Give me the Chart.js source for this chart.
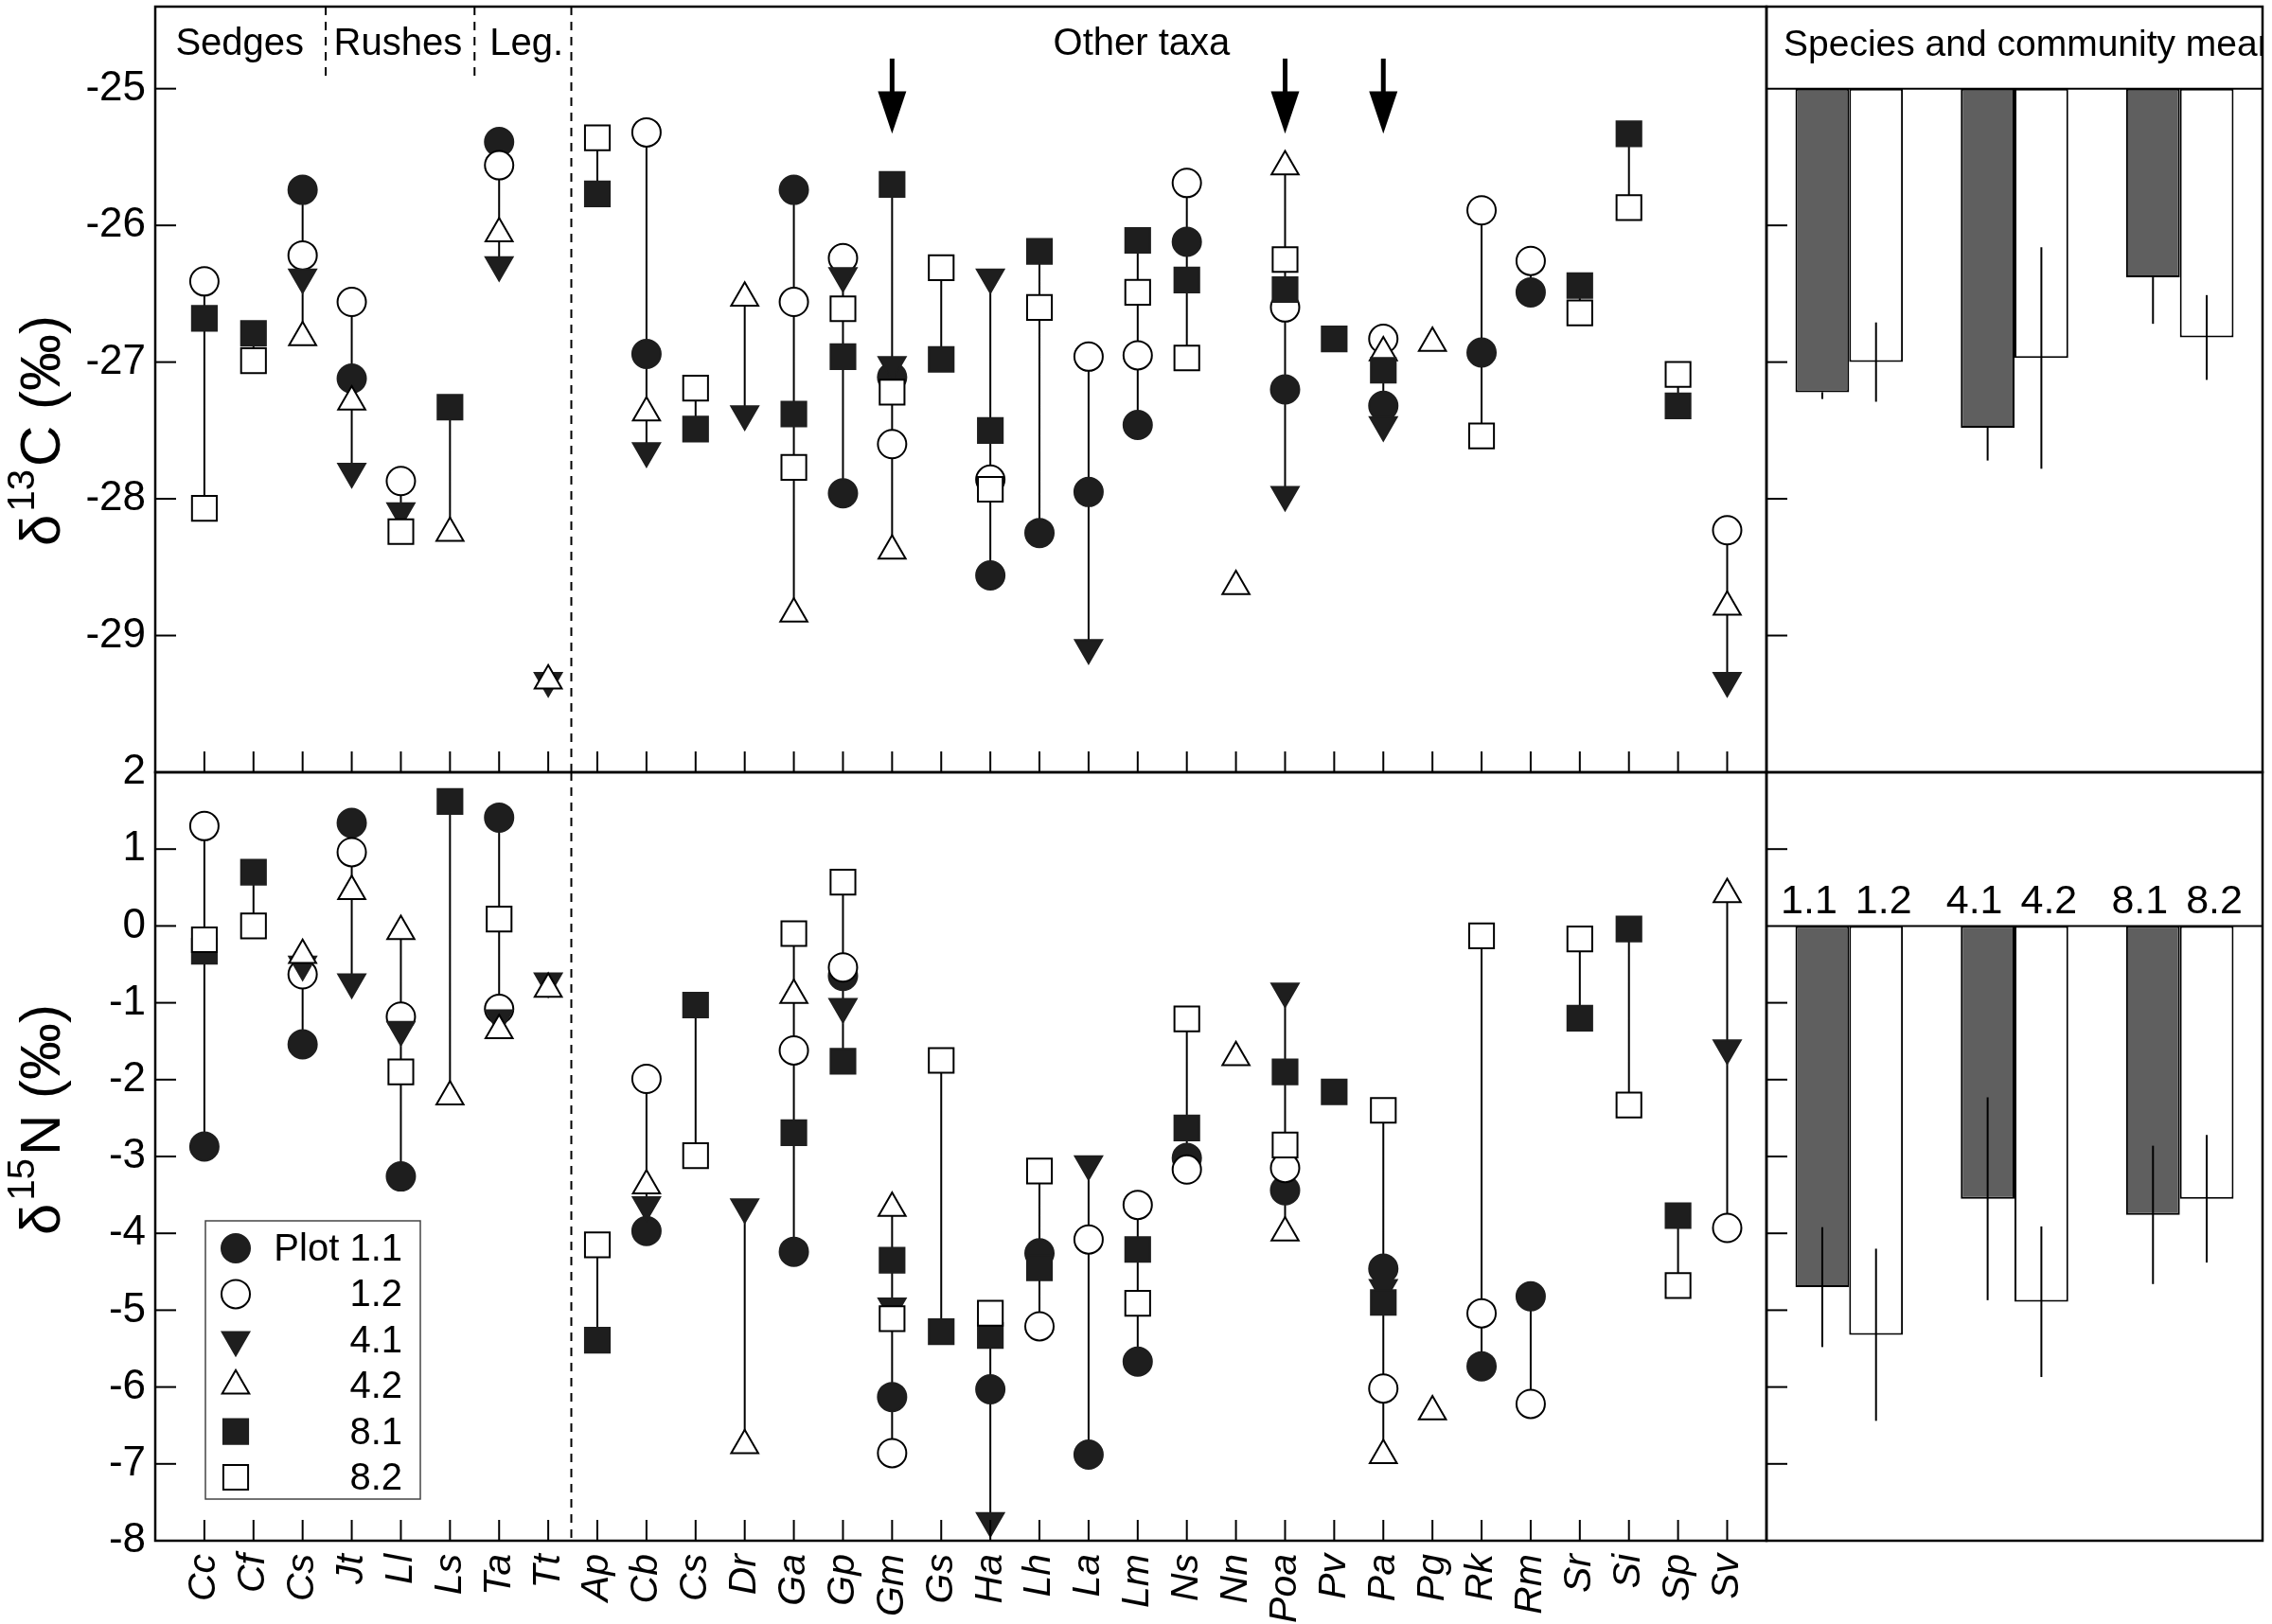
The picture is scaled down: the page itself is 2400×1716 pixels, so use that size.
<!DOCTYPE html>
<html lang="en">
<head>
  <meta charset="UTF-8" />
  <title>δ13C and δ15N by taxon and plot</title>
  <script src="https://cdn.jsdelivr.net/npm/chart.js"></script>
  <style>
    html, body { margin: 0; padding: 0; background: #fff; }
    #wrap { position: relative; width: 2400px; height: 1716px; }
    #wrap canvas { position: absolute; left: 0; top: 0; }
  </style>
</head>
<body>
<div id="wrap">
  <canvas id="c13" width="2400" height="1716"></canvas>
  <canvas id="n15" width="2400" height="1716"></canvas>
  <canvas id="m13" width="2400" height="1716"></canvas>
  <canvas id="m15" width="2400" height="1716"></canvas>
</div>
<script>
  // taxa along the x axis
  const taxa = ['Cc','Cf','Cs','Jt','Ll','Ls','Ta','Tt','Ap','Cb','Cs','Dr','Ga','Gp','Gm','Gs',
                'Ha','Lh','La','Lm','Ns','Nn','Poa','Pv','Pa','Pg','Rk','Rm','Sr','Si','Sp','Sv'];

  // d13C per plot (null = not sampled)
  const c13_11 = [null,null,-25.74,-27.12,null,null,-25.39,null,null,-26.94,null,null,-25.74,-27.96,-27.11,null,-28.56,-28.25,-27.95,-27.46,-26.12,null,-27.20,null,-27.32,null,-26.93,-26.49,null,null,null,null];
  const c13_12 = [-26.41,null,-26.22,-26.56,-27.87,null,-25.56,null,null,-25.32,null,null,-26.56,-26.24,-27.60,null,-27.86,null,-26.96,-26.95,-25.69,null,-26.60,null,-26.83,null,-25.89,-26.26,null,null,null,-28.23];
  const c13_41 = [null,null,-26.38,-27.80,-28.09,null,-26.29,-29.33,null,-27.65,null,-27.38,null,-26.37,-27.02,null,-26.38,null,-29.09,null,null,null,-27.97,null,-27.46,null,null,null,null,null,null,-29.33];
  const c13_42 = [null,null,-26.82,-27.29,null,-28.25,-26.06,-29.33,null,-27.37,null,-26.53,-28.84,null,-28.38,null,null,null,null,null,null,-28.64,-25.57,null,-26.93,-26.86,null,null,null,null,null,-28.79];
  const c13_81 = [-26.68,-26.79,null,null,null,-27.33,null,null,-25.77,null,-27.49,null,-27.38,-26.96,-25.70,-26.98,-27.50,-26.19,null,-26.11,-26.40,null,-26.47,-26.83,-27.06,null,null,null,-26.44,-25.33,-27.32,null];
  const c13_82 = [-28.07,-26.99,null,null,-28.24,null,null,null,-25.36,null,-27.19,null,-27.77,-26.61,-27.22,-26.31,-27.93,-26.60,null,-26.49,-26.97,null,-26.25,null,null,null,-27.54,null,-26.64,-25.87,-27.09,null];

  // d15N per plot
  const n15_11 = [-2.87,null,-1.54,1.34,-3.26,null,1.41,null,null,-3.97,null,null,-4.24,-0.65,-6.13,null,-6.03,-4.26,-6.88,-5.67,-3.02,null,-3.44,null,-4.46,null,-5.73,-4.82,null,null,null,null];
  const n15_12 = [1.30,null,-0.63,0.96,-1.18,null,-1.08,null,null,-1.99,null,null,-1.62,-0.54,-6.86,null,null,-5.21,-4.08,-3.63,-3.17,null,-3.15,null,-6.02,null,-5.04,-6.22,null,null,null,-3.93];
  const n15_41 = [null,null,-0.50,-0.73,-1.35,null,-1.20,-0.72,null,-3.63,null,-3.66,null,-1.05,-4.95,null,-7.74,null,-3.10,null,null,null,-0.85,null,-4.71,null,null,null,null,null,null,-1.59];
  const n15_42 = [null,null,-0.38,0.45,-0.07,-2.22,-1.36,-0.82,null,-3.38,null,-6.76,-0.90,null,-3.67,null,null,null,null,null,null,-1.71,-3.99,null,-6.89,-6.32,null,null,null,null,null,0.41];
  const n15_81 = [-0.33,0.70,null,null,null,1.62,null,null,-5.39,null,-1.03,null,-2.69,-1.76,-4.35,-5.28,-5.33,-4.45,null,-4.21,-2.63,null,-1.90,-2.16,-4.90,null,null,null,-1.20,-0.04,-3.77,null];
  const n15_82 = [-0.18,0.00,null,null,-1.90,null,0.09,null,-4.15,null,-2.99,null,-0.10,0.57,-5.11,-1.75,-5.04,-3.19,null,-4.91,-1.21,null,-2.85,null,-2.40,null,-0.13,null,-0.17,-2.33,-4.68,null];

  // community means (plot order 1.1, 1.2, 4.1, 4.2, 8.1, 8.2)
  const plots = ['1.1','1.2','4.1','4.2','8.1','8.2'];
  const mean13 = [-27.22, -27.00, -27.48, -26.97, -26.38, -26.82];
  const err13  = [0.05, 0.29, 0.24, 0.81, 0.34, 0.31];
  const mean15 = [-4.70, -5.32, -3.55, -4.89, -3.76, -3.55];
  const err15  = [0.78, 1.12, 1.32, 0.98, 0.90, 0.83];

  // y tick values
  const ticks13 = [-25, -26, -27, -28, -29];
  const ticks15 = [2, 1, 0, -1, -2, -3, -4, -5, -6, -7, -8];

  // taxa marked with an arrow in the top panel
  const arrowTaxa = ['Gm', 'Poa', 'Pa'];

  const FONT = "'Liberation Sans', Arial, Helvetica, sans-serif";
  const dark = '#1e1e1e';
  Chart.defaults.font.family = FONT;
  Chart.defaults.color = '#000';

  const looks = [
    { label: 'Plot 1.1', style: 'circle',   rot: 0,   r: 15,   fill: dark },
    { label: '1.2',      style: 'circle',   rot: 0,   r: 15,   fill: '#fff' },
    { label: '4.1',      style: 'triangle', rot: 180, r: 16.5, fill: dark },
    { label: '4.2',      style: 'triangle', rot: 0,   r: 16.5, fill: '#fff' },
    { label: '8.1',      style: 'rect',     rot: 0,   r: 18.5, fill: dark },
    { label: '8.2',      style: 'rect',     rot: 0,   r: 18.5, fill: '#fff' }
  ];

  function pointsOf(vals) {
    return vals.map((v, i) => ({ x: i, y: v })).filter(p => p.y !== null);
  }

  // one vertical segment per taxon, from lowest to highest value
  function rangeOf(list) {
    const out = [];
    taxa.forEach((t, i) => {
      const vs = list.map(s => s[i]).filter(v => v !== null);
      if (vs.length > 1) {
        out.push({ x: i, y: Math.max(...vs) }, { x: i, y: Math.min(...vs) }, { x: i, y: null });
      }
    });
    return out;
  }

  function scatterSets(list) {
    const sets = [{
      data: rangeOf(list), showLine: true, borderColor: '#000', borderWidth: 2,
      pointRadius: 0, order: 10
    }];
    list.forEach((vals, k) => {
      const lk = looks[k];
      sets.push({
        data: pointsOf(vals),
        pointStyle: lk.style, pointRotation: lk.rot, pointRadius: lk.r,
        backgroundColor: lk.fill,
        borderColor: lk.fill === '#fff' ? '#000' : dark,
        borderWidth: 2, order: 6 - k
      });
    });
    return sets;
  }

  function drawMark(ctx, lk, x, y) {
    ctx.fillStyle = lk.fill;
    ctx.strokeStyle = lk.fill === '#fff' ? '#000' : dark;
    ctx.lineWidth = 2;
    Chart.helpers.drawPoint(ctx, { pointStyle: lk.style, rotation: lk.rot, radius: lk.r, borderWidth: 2 }, x, y);
  }

  function line(ctx, x0, y0, x1, y1) {
    ctx.beginPath(); ctx.moveTo(x0, y0); ctx.lineTo(x1, y1); ctx.stroke();
  }

  const deco = {
    id: 'deco',
    afterDatasetsDraw(chart, args, o) {
      const { ctx, chartArea: a } = chart;
      const xs = chart.scales.x, ys = chart.scales.y;
      ctx.save();
      ctx.strokeStyle = '#000';
      ctx.fillStyle = '#000';
      ctx.lineWidth = 2;

      if (o.baseline !== undefined) {
        const y = ys.getPixelForValue(o.baseline);
        line(ctx, a.left, y, a.right, y);
      }

      if (o.errors) {
        o.errors.vals.forEach((errs, d) => {
          const meta = chart.getDatasetMeta(d);
          meta.data.forEach((bar, j) => {
            const [b, v] = chart.data.datasets[d].data[j];
            const e = errs[j];
            const dir = Math.sign(v - b);
            const y0 = ys.getPixelForValue(o.errors.outward[d] ? v : v - dir * e);
            const y1 = ys.getPixelForValue(v + dir * e);
            line(ctx, bar.x, y0, bar.x, y1);
          });
        });
      }

      (o.yTicks || []).forEach(v => {
        const y = ys.getPixelForValue(v);
        line(ctx, a.left, y, a.left + 22, y);
      });
      if (o.xTicks) {
        taxa.forEach((t, i) => {
          const x = xs.getPixelForValue(i);
          line(ctx, x, a.bottom, x, a.bottom - 22);
        });
      }

      ctx.setLineDash([9, 7]);
      (o.dashes || []).forEach(d => {
        const x = xs.getPixelForValue(d.x);
        const y0 = d.y0 === undefined ? a.top : ys.getPixelForValue(d.y0);
        const y1 = d.y1 === undefined ? a.bottom : ys.getPixelForValue(d.y1);
        line(ctx, x, y0, x, y1);
      });
      ctx.setLineDash([]);

      (o.texts || []).forEach(t => {
        ctx.save();
        ctx.beginPath();
        ctx.rect(a.left, a.top, a.right - a.left, a.bottom - a.top);
        ctx.clip();
        ctx.font = `${t.size || 40}px ${FONT}`;
        ctx.textAlign = t.align || 'center';
        ctx.textBaseline = 'alphabetic';
        const x = t.px !== undefined ? a.left + t.px : xs.getPixelForValue(t.x);
        ctx.fillText(t.t, x, ys.getPixelForValue(t.y));
        ctx.restore();
      });

      (o.arrows || []).forEach(name => {
        const x = xs.getPixelForValue(taxa.indexOf(name));
        const yTop = ys.getPixelForValue(-24.78);
        const yBase = ys.getPixelForValue(-25.02);
        const yTip = ys.getPixelForValue(-25.33);
        ctx.lineWidth = 5;
        line(ctx, x, yTop, x, yBase + 2);
        ctx.beginPath();
        ctx.moveTo(x - 15, yBase); ctx.lineTo(x + 15, yBase); ctx.lineTo(x, yTip);
        ctx.closePath(); ctx.fill();
        ctx.lineWidth = 2;
      });

      if (o.barLabels) {
        ctx.font = `43px ${FONT}`;
        ctx.textAlign = 'center';
        ctx.textBaseline = 'alphabetic';
        [0, 1].forEach(d => {
          chart.getDatasetMeta(d).data.forEach((bar, j) => {
            const shift = d === 0 ? -14 : 8;
            ctx.fillText(plots[2 * j + d], bar.x + shift, ys.getPixelForValue(0.17));
          });
        });
      }

      if (o.legend) {
        const bx = a.left + 53, by = a.top + 474;
        ctx.lineWidth = 1.5;
        ctx.strokeStyle = '#444';
        ctx.strokeRect(bx, by, 227, 294);
        ctx.font = `40px ${FONT}`;
        ctx.textAlign = 'right';
        ctx.textBaseline = 'middle';
        looks.forEach((lk, k) => {
          const y = by + 29 + k * 48.4;
          drawMark(ctx, lk, bx + 32, y);
          ctx.fillStyle = '#000';
          ctx.fillText(lk.label, bx + 208, y + 2);
        });
      }

      ctx.lineWidth = 2.5;
      ctx.strokeStyle = '#000';
      ctx.strokeRect(a.left, a.top, a.right - a.left, a.bottom - a.top);
      ctx.restore();
    },
    afterDraw(chart, args, o) {
      if (!o.title) return;
      const t = o.title, ctx = chart.ctx;
      ctx.save();
      ctx.translate(t.bx, t.cy);
      ctx.rotate(-Math.PI / 2);
      const big = `60px ${FONT}`, small = `40px ${FONT}`;
      ctx.font = big;
      const w1 = ctx.measureText(t.a).width, w3 = ctx.measureText(t.c).width;
      ctx.font = small;
      const w2 = ctx.measureText(t.b).width;
      let x = -(w1 + w2 + w3 + 6) / 2;
      ctx.fillStyle = '#000';
      ctx.textAlign = 'left';
      ctx.textBaseline = 'alphabetic';
      ctx.font = big; ctx.fillText(t.a, x, 0); x += w1 + 3;
      ctx.font = small; ctx.fillText(t.b, x, -27); x += w2 + 3;
      ctx.font = big; ctx.fillText(t.c, x, 0);
      ctx.restore();
    }
  };

  function fixWidth(w) {
    return s => { s.width = w; s.paddingTop = 0; s.paddingBottom = 0; };
  }
  function fixHeight(h) {
    return s => { s.height = h; s.paddingLeft = 0; s.paddingRight = 0; };
  }

  function leftY(min, max, show) {
    return {
      min: min, max: max,
      grid: { display: false, drawTicks: false },
      border: { display: false },
      ticks: {
        stepSize: 1, padding: 10, font: { size: 44 },
        callback: v => (Number.isInteger(v) && show.includes(v)) ? String(v) : ''
      },
      afterFit: fixWidth(164)
    };
  }

  const base = {
    responsive: false, animation: false, events: [],
    plugins: { legend: { display: false }, tooltip: { enabled: false } }
  };

  // top left: d13C by taxon
  new Chart(document.getElementById('c13'), {
    type: 'scatter',
    data: { datasets: scatterSets([c13_11, c13_12, c13_41, c13_42, c13_81, c13_82]) },
    options: Object.assign({}, base, {
      layout: { autoPadding: false, padding: { left: 0, right: 534, top: 7, bottom: 900 } },
      scales: {
        x: { type: 'linear', min: -1, max: 31.8, display: false },
        y: leftY(-30, -24.4, ticks13)
      },
      plugins: Object.assign({}, base.plugins, {
        deco: {
          yTicks: ticks13, xTicks: true,
          dashes: [{ x: 7.47 }, { x: 2.47, y1: -24.91 }, { x: 5.5, y1: -24.91 }],
          texts: [
            { x: 0.72, y: -24.75, t: 'Sedges' },
            { x: 3.94, y: -24.75, t: 'Rushes' },
            { x: 6.56, y: -24.75, t: 'Leg.' },
            { x: 19.08, y: -24.75, t: 'Other taxa' }
          ],
          arrows: arrowTaxa,
          title: { a: 'δ', b: '13', c: 'C (‰)', bx: 63, cy: 455 }
        }
      })
    }),
    plugins: [deco]
  });

  // bottom left: d15N by taxon
  new Chart(document.getElementById('n15'), {
    type: 'scatter',
    data: { datasets: scatterSets([n15_11, n15_12, n15_41, n15_42, n15_81, n15_82]) },
    options: Object.assign({}, base, {
      layout: { autoPadding: false, padding: { left: 0, right: 534, top: 816, bottom: 0 } },
      scales: {
        x: {
          type: 'linear', min: -1, max: 31.8,
          grid: { display: false, drawTicks: false },
          border: { display: false },
          ticks: {
            stepSize: 1, includeBounds: false, autoSkip: false,
            minRotation: 90, maxRotation: 90, padding: 14,
            font: { size: 41, style: 'italic' },
            callback: v => (Number.isInteger(v) && v >= 0 && v < taxa.length) ? taxa[v] : ''
          },
          afterFit: fixHeight(88)
        },
        y: leftY(-8, 2, ticks15)
      },
      plugins: Object.assign({}, base.plugins, {
        deco: {
          yTicks: [1, 0, -1, -2, -3, -4, -5, -6, -7], xTicks: true,
          dashes: [{ x: 7.47 }],
          legend: true,
          title: { a: 'δ', b: '15', c: 'N (‰)', bx: 63, cy: 1183 }
        }
      })
    }),
    plugins: [deco]
  });

  const groups = ['1', '4', '8'];
  function barSets(means, b) {
    return [0, 1].map(d => ({
      data: groups.map((g, j) => [b, means[2 * j + d]]),
      backgroundColor: d === 0 ? '#5f5f5f' : '#fff',
      borderColor: '#000', borderWidth: 2, borderSkipped: false,
      categoryPercentage: 0.65, barPercentage: 1
    }));
  }
  function splitErr(errs) {
    return [groups.map((g, j) => errs[2 * j]), groups.map((g, j) => errs[2 * j + 1])];
  }

  // top right: d13C community means
  new Chart(document.getElementById('m13'), {
    type: 'bar',
    data: { labels: groups, datasets: barSets(mean13, -25) },
    options: Object.assign({}, base, {
      layout: { autoPadding: false, padding: { left: 1866, right: 10, top: 7, bottom: 900 } },
      scales: { x: { display: false }, y: { display: false, min: -30, max: -24.4 } },
      plugins: Object.assign({}, base.plugins, {
        deco: {
          baseline: -25,
          errors: { vals: splitErr(err13), outward: [true, false] },
          yTicks: [-26, -27, -28, -29],
          texts: [{ px: 18, y: -24.76, t: 'Species and community mean', align: 'left', size: 39 }]
        }
      })
    }),
    plugins: [deco]
  });

  // bottom right: d15N community means
  new Chart(document.getElementById('m15'), {
    type: 'bar',
    data: { labels: groups, datasets: barSets(mean15, 0) },
    options: Object.assign({}, base, {
      layout: { autoPadding: false, padding: { left: 1866, right: 10, top: 816, bottom: 88 } },
      scales: { x: { display: false }, y: { display: false, min: -8, max: 2 } },
      plugins: Object.assign({}, base.plugins, {
        deco: {
          baseline: 0,
          errors: { vals: splitErr(err15), outward: [false, false] },
          yTicks: [1, -1, -2, -3, -4, -5, -6, -7],
          barLabels: true
        }
      })
    }),
    plugins: [deco]
  });
</script>
</body>
</html>
